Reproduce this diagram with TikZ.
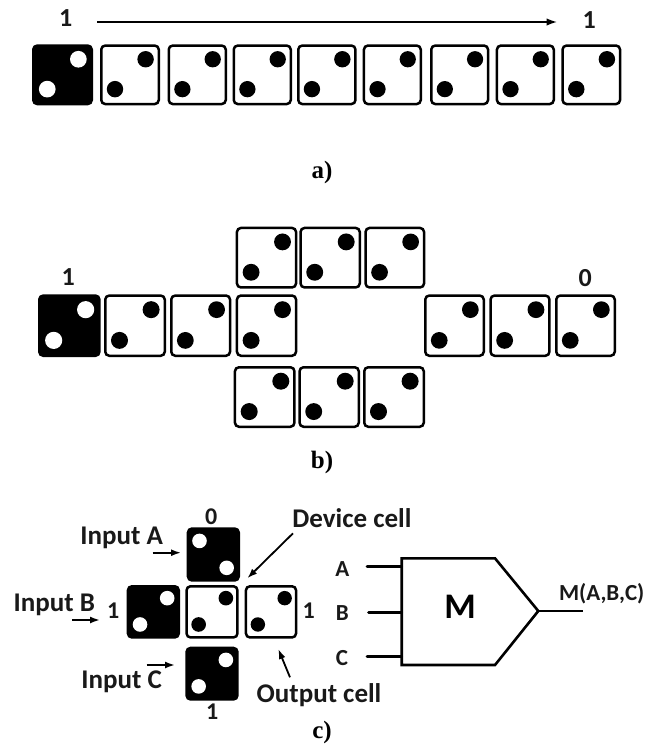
\documentclass[tikz,border=0pt]{standalone}
\usepackage{fontspec}
\setmainfont{Carlito}
\newfontfamily\capfont{Liberation Serif}
\usetikzlibrary{arrows.meta}
\tikzset{
  x=1pt,y=-1pt,
  lbl/.style={font=\fontsize{27}{27}\selectfont\bfseries,inner sep=0pt,text=black!90},
  lblsm/.style={font=\fontsize{23}{23}\selectfont\bfseries,inner sep=0pt,text=black!90},
  num/.style={font=\fontsize{26}{26}\selectfont\bfseries,inner sep=0pt,text=black!90},
  numsm/.style={font=\fontsize{24}{24}\selectfont\bfseries,inner sep=0pt,text=black!90},
  capt/.style={font=\capfont\fontsize{25}{25}\selectfont\bfseries,inner sep=0pt},
  cellbase/.style={rectangle,rounded corners=4pt,inner sep=0pt,outer sep=0pt,line width=2.5pt,draw=black},
  whitecell/.style={cellbase,fill=white},
  blackcell/.style={cellbase,fill=black},
  arrowline/.style={line width=2pt,-{Latex[length=11pt,width=7.5pt]}},
  thinarrow/.style={line width=1.8pt,-{Latex[length=10pt,width=7pt]}},
  wire/.style={line width=2.6pt,line cap=round},
}
% name, x1, y1, x2, y2, style, dot colour, dot a (fx,fy), dot b (fx,fy)
\newcommand{\drawcell}[8]{%
  \pgfmathsetmacro{\cellwd}{#4-#2-2.5}%
  \pgfmathsetmacro{\cellht}{#5-#3-2.5}%
  \pgfmathsetmacro{\cellcx}{(#2+#4)/2}%
  \pgfmathsetmacro{\cellcy}{(#3+#5)/2}%
  \pgfmathsetmacro{\cellrad}{0.137*(#4-#2)}%
  \node[#6,minimum width=\cellwd pt,minimum height=\cellht pt] (#1) at (\cellcx,\cellcy) {};
  \foreach \fx/\fy in {#8}{%
    \fill[#7] ({#2+\fx*(#4-#2)},{#3+\fy*(#5-#3)}) circle[radius=\cellrad pt];
  }%
}
\newcommand{\wcell}[5]{\drawcell{#1}{#2}{#3}{#4}{#5}{whitecell}{black}{.76/.245,.25/.735}}
\newcommand{\bcell}[5]{\drawcell{#1}{#2}{#3}{#4}{#5}{blackcell}{white}{.76/.245,.25/.735}}
\begin{document}
\begin{tikzpicture}
\fill[white] (0,0) rectangle (645,745);
\useasboundingbox (0,0) rectangle (645,745);

% --- a ---
\node[num] (aone) at (65.7,18.5) {1};
\node[num] (atwo) at (589.3,20) {1};
\coordinate (astart) at (97,22);
\coordinate (aend) at (557.5,22);
\draw[arrowline] (astart) -- (aend);
\bcell{a0}{32}{44.3}{93}{105.3}
\wcell{a1}{100}{44.3}{160}{105.3}
\wcell{a2}{167.5}{44.3}{227}{105.3}
\wcell{a3}{232.5}{44.3}{292}{105.3}
\wcell{a4}{297}{44.3}{356.7}{105.3}
\wcell{a5}{362.7}{44.3}{422}{105.3}
\wcell{a6}{430}{44.3}{489.3}{105.3}
\wcell{a7}{495.7}{44.3}{555}{105.3}
\wcell{a8}{561.3}{44.3}{621.3}{105.3}
\node[capt] (capa) at (322,172) {a)};

% --- b ---
\node[num] (bone) at (68.3,277.5) {1};
\node[num] (bzero) at (585.3,278) {0};
\wcell{t1}{235.7}{226.7}{297.3}{288.7}
\wcell{t2}{299.3}{226.7}{361}{288.7}
\wcell{t3}{364.3}{226.7}{425.3}{288.7}
\bcell{m0}{38}{294.3}{100.7}{357}
\wcell{m1}{104}{294.3}{166}{357}
\wcell{m2}{170}{294.3}{231.3}{357}
\wcell{m3}{235.7}{294.3}{297.3}{357}
\wcell{r1}{424}{294.3}{485}{357}
\wcell{r2}{489.3}{294.3}{550.7}{357}
\wcell{r3}{555}{294.3}{616}{357}
\wcell{u1}{233.7}{366}{295.7}{428}
\wcell{u2}{298.3}{366}{360}{428}
\wcell{u3}{363}{366}{425}{428}
\node[capt] (capb) at (322,462) {b)};

% --- c ---
\drawcell{ca}{186.7}{527.3}{240}{581.7}{blackcell}{white}{.24/.25,.75/.745}
\bcell{cb}{126.7}{585}{180}{638.7}
\wcell{cd}{185.3}{585}{238.7}{638.7}
\wcell{co}{244.7}{585}{297.3}{638.7}
\bcell{cc}{185.3}{646.7}{238.7}{700.7}

\node[numsm] (czero) at (211.3,517) {0};
\node[numsm] (cbone) at (113.3,611) {1};
\node[numsm] (coone) at (308.7,611) {1};
\node[numsm] (ccone) at (212.3,712) {1};
\node[lbl] (ina) at (121.7,538) {Input A};
\node[lbl] (inb) at (54.3,605) {Input B};
\node[lbl] (inc) at (121.7,682) {Input C};
\node[lbl] (dev) at (352,518) {Device cell};
\node[lbl] (out) at (319,695) {Output cell};

\coordinate (aa1) at (152.7,552.7); \coordinate (aa2) at (181,552.7);
\coordinate (ab1) at (72,620);      \coordinate (ab2) at (100,620);
\coordinate (ac1) at (146.7,665);   \coordinate (ac2) at (175,665);
\coordinate (ad1) at (293,533.3);   \coordinate (ad2) at (247.3,578.3);
\coordinate (ao1) at (290,677.3);   \coordinate (ao2) at (278.3,649);
\draw[thinarrow] (aa1) -- (aa2);
\draw[thinarrow] (ab1) -- (ab2);
\draw[thinarrow] (ac1) -- (ac2);
\draw[thinarrow] (ad1) -- (ad2);
\draw[thinarrow] (ao1) -- (ao2);

% majority gate
\coordinate (g1) at (401.7,558.3);
\coordinate (g2) at (495,558.3);
\coordinate (g3) at (538.3,611);
\coordinate (g4) at (495,665);
\coordinate (g5) at (401.7,665);
\coordinate (wa) at (367,566.3); \coordinate (wae) at (401.7,566.3);
\coordinate (wb) at (368.5,612.3); \coordinate (wbe) at (401.7,612.3);
\coordinate (wc) at (367,656.7); \coordinate (wce) at (401.7,656.7);
\coordinate (wo) at (583.3,611);
\draw[line width=2.6pt,line join=miter] (g1) -- (g2) -- (g3) -- (g4) -- (g5) -- cycle;
\draw[wire] (wa) -- (wae);
\draw[wire] (wb) -- (wbe);
\draw[wire] (wc) -- (wce);
\draw[line width=2pt] (g3) -- (wo);
\node[font=\fontsize{36}{36}\selectfont\bfseries,inner sep=0pt] (mm) at (460,607) {M};
\node[lblsm] (la) at (342.3,569.5) {A};
\node[lblsm] (lb) at (342.3,612.7) {B};
\node[lblsm] (lc) at (342,658) {C};
\node[lblsm] (lo) at (601.7,593.3) {M(A,B,C)};
\node[capt] (capc) at (322,732) {c)};
\end{tikzpicture}
\end{document}
